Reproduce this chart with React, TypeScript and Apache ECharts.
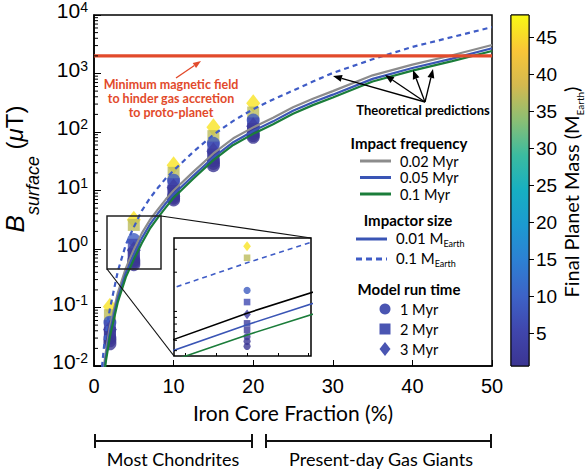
import React, { useEffect, useRef } from "react";
import * as echarts from "echarts";

// ---------------- data ----------------
const ironCoreFraction = [0.9, 1, 1.1, 1.25, 1.5, 2, 3, 4, 5, 6, 7, 8, 9, 10, 12.5, 15, 17.5, 20, 22.5, 25, 27.5, 30, 35, 40, 45, 50];
// Theoretical predictions, B_surface in microtesla
const bFreq002Myr = [0.0035, 0.0048, 0.0065, 0.0099, 0.018, 0.047, 0.18, 0.47, 0.97, 1.85, 3.1, 4.7, 7.0, 10, 21, 43, 78, 120, 175, 265, 370, 500, 930, 1420, 2050, 3070];
const bFreq005Myr = [0.0028, 0.0038, 0.0052, 0.0079, 0.0145, 0.038, 0.148, 0.39, 0.79, 1.52, 2.6, 4.0, 6.0, 8.6, 18, 37, 67, 104, 152, 230, 322, 435, 810, 1240, 1800, 2700];
const bFreq01Myr = [0.0022, 0.0031, 0.0043, 0.0066, 0.0122, 0.032, 0.125, 0.33, 0.66, 1.25, 2.2, 3.4, 5.1, 7.5, 16, 33, 60, 93, 136, 205, 288, 390, 730, 1120, 1630, 2430];
const bImpactor01 = [0.0068, 0.0095, 0.013, 0.021, 0.038, 0.095, 0.42, 1.19, 2.36, 4.5, 7.3, 11, 16, 22, 46, 90, 155, 245, 360, 510, 730, 1020, 1750, 2850, 4200, 6200];
const hinderThreshold = 2000;

// Model runs: [iron core fraction %, B_surface, final planet mass]
const run1Myr = [
  [2, 0.056, 9], [2, 0.030, 1.6], [2, 0.027, 1.2], [2, 0.024, 0.8],
  [5, 1.45, 9], [5, 0.64, 1.6], [5, 0.59, 1.2], [5, 0.54, 0.8],
  [10, 15, 9], [10, 8.0, 1.6], [10, 7.4, 1.2], [10, 6.9, 0.8],
  [15, 64, 9], [15, 32, 1.6], [15, 29, 1.2], [15, 26.5, 0.8],
  [20, 160, 9], [20, 94, 1.6], [20, 87, 1.2], [20, 81, 0.8],
];
const run2Myr = [
  [2, 0.074, 37], [2, 0.048, 6], [2, 0.037, 2.5], [2, 0.033, 2],
  [5, 2.58, 37], [5, 1.18, 6], [5, 0.81, 2.5], [5, 0.72, 2],
  [10, 20, 37], [10, 12.8, 6], [10, 9.8, 2.5], [10, 8.8, 2],
  [15, 85, 37], [15, 54, 6], [15, 41, 2.5], [15, 36, 2],
  [20, 215, 37], [20, 140, 6], [20, 112, 2.5], [20, 102, 2],
];
const run3Myr = [
  [2, 0.103, 46], [2, 0.042, 3.5],
  [5, 3.16, 46], [5, 0.95, 3.5],
  [10, 27, 46], [10, 11.2, 3.5],
  [15, 120, 46], [15, 47, 3.5],
  [20, 310, 46], [20, 125, 3.5],
];

const colorbarTicks = [5, 10, 15, 20, 25, 30, 35, 40, 45];
const massMin = 0.57;
const massMax = 48.07;
const parula = ["#3b3592", "#4046ad", "#3d63c7", "#2d80d3", "#1c9ad1", "#17afc2", "#3bbba0", "#8bbf74", "#d4b94f", "#fac637", "#f8f914"];

const insetX = [4.36, 5.56];
const insetY = [0.455, 3.66];
const insetTicksX = [4.46, 4.73, 5, 5.27, 5.54];
const insetTicksY = [0.5, 0.6, 0.7, 0.8, 0.9, 1, 2, 3];

// ---------------- helpers ----------------
const SANS = "'Liberation Sans', Arial, sans-serif";
const AV = "Lato, 'Open Sans', sans-serif";

const pairs = (ys: number[]) => ironCoreFraction.map((x, i) => [x, ys[i]]);

const mainMinorTicks: number[] = [];
for (let e = -2; e < 4; e++) for (let k = 2; k <= 9; k++) mainMinorTicks.push(k * Math.pow(10, e));

function markerItems(small: boolean, filterX?: number) {
  const f = (p: number[]) => filterX === undefined || p[0] === filterX;
  const s = small ? 0.55 : 1;
  const items = [
    ...run1Myr.filter(f).map((p) => ({ value: p, symbol: "circle", symbolSize: 13 * s })),
    ...run2Myr.filter(f).map((p) => ({ value: p, symbol: "rect", symbolSize: 12 * s })),
    ...run3Myr.filter(f).map((p) => ({ value: p, symbol: "diamond", symbolSize: [14 * s, 18 * s] })),
  ];
  return items.sort((a, b) => b.value[1] - a.value[1]);
}

function tickSeries(xi: number, x0: number, values: number[], len: number) {
  return {
    type: "custom",
    xAxisIndex: xi,
    yAxisIndex: xi,
    silent: true,
    clip: false,
    z: 6,
    data: values.map((v) => [x0, v]),
    renderItem: (_p: any, api: any) => {
      const pt = api.coord([api.value(0), api.value(1)]);
      return {
        type: "line",
        shape: { x1: pt[0], y1: pt[1], x2: pt[0] + len, y2: pt[1] },
        style: { stroke: "#000", lineWidth: 1 },
      };
    },
  };
}

function arrow(x1: number, y1: number, x2: number, y2: number, color: string, lw = 1.3, hl = 9, hw = 7) {
  const dx = x2 - x1, dy = y2 - y1;
  const L = Math.hypot(dx, dy);
  const ux = dx / L, uy = dy / L;
  const bx = x2 - ux * hl, by = y2 - uy * hl;
  return [
    { type: "line", z: 100, shape: { x1, y1, x2: bx, y2: by }, style: { stroke: color, lineWidth: lw } },
    {
      type: "polygon", z: 100,
      shape: { points: [[x2, y2], [bx - (uy * hw) / 2, by + (ux * hw) / 2], [bx + (uy * hw) / 2, by - (ux * hw) / 2]] },
      style: { fill: color },
    },
  ];
}

function txt(x: number, y: number, text: string, font: string, fill = "#000", align = "center", extra: any = {}) {
  return {
    type: "text", z: 100, x, y,
    style: { text, font, fill, textAlign: align, textVerticalAlign: "middle", ...extra },
  };
}

function hline(x1: number, y1: number, x2: number, y2: number, color: string, lw: number, dash?: number[]) {
  return { type: "line", z: 100, shape: { x1, y1, x2, y2 }, style: { stroke: color, lineWidth: lw, lineDash: dash } };
}

const C_GRAY = "#8c8c8c";
const C_BLUE = "#3a55b5";
const C_GREEN = "#1b7d3a";
const C_DASH = "#3f5cc6";
const C_RED = "#e24a2b";
const C_MARK = "#4a55b2";

function buildOption() {
  const curve = (name: string, ys: number[], color: string, width: number, gi: number, dashed = false) => ({
    type: "line",
    name,
    xAxisIndex: gi,
    yAxisIndex: gi,
    data: pairs(ys),
    symbol: "none",
    z: 4,
    lineStyle: { color, width, type: dashed ? [5, 4] : "solid" },
  });

  const legendText = (y: number, t: string) =>
    txt(400, y, t, `14.5px ${AV}`, "#000", "left", { lineHeight: 14, textLineHeight: 14 });
  const mEarth = (x: number, y: number, pre: string) => ({
    type: "text", z: 100, x, y,
    style: {
      text: `{n|${pre} M}{s|Earth}`,
      textAlign: "left", textVerticalAlign: "middle",
      rich: {
        n: { fontSize: 15, fontFamily: AV, fill: "#000", lineHeight: 18, verticalAlign: "top" },
        s: { fontSize: 9, fontFamily: AV, fill: "#000", lineHeight: 9, verticalAlign: "bottom" },
      },
    },
  });

  const graphic: any[] = [
    { type: "rect", z: 100, shape: { x: 107, y: 216, width: 54, height: 53 }, style: { fill: "none", stroke: "#222", lineWidth: 1.5 } },
    hline(161, 216, 311, 238, "#111", 1.2),
    hline(107, 269, 174, 356, "#111", 1.2),
    txt(171, 98, "Minimum magnetic field\nto hinder gas accretion\nto proto-planet", `bold 12.5px ${AV}`, C_RED, "center", { lineHeight: 14 }),
    ...arrow(176, 78, 201, 61, C_RED, 1.4, 8, 6),
    txt(423, 110, "Theoretical predictions", `bold 13px ${AV}`),
    ...arrow(425, 102, 333, 76, "#000"),
    ...arrow(425, 102, 385, 75, "#000"),
    ...arrow(425, 102, 413, 70, "#000"),
    ...arrow(425, 102, 433, 69, "#000"),
    txt(409, 143, "Impact frequency", `bold 15px ${AV}`),
    hline(360, 161, 391, 161, C_GRAY, 3),
    legendText(161, "0.02 Myr"),
    hline(360, 177.5, 391, 177.5, C_BLUE, 3),
    legendText(177.5, "0.05 Myr"),
    hline(360, 194, 391, 194, C_GREEN, 3),
    legendText(194, "0.1 Myr"),
    txt(408, 220, "Impactor size", `bold 15px ${AV}`),
    hline(356, 239, 387, 239, C_BLUE, 3),
    mEarth(396, 239, "0.01"),
    hline(356, 259, 387, 259, C_DASH, 3, [6, 4]),
    mEarth(396, 259, "0.1"),
    txt(409, 289, "Model run time", `bold 15px ${AV}`),
    { type: "circle", z: 100, shape: { cx: 385, cy: 309, r: 5.5 }, style: { fill: C_MARK } },
    legendText(309, "1 Myr"),
    { type: "rect", z: 100, shape: { x: 379.5, y: 323.5, width: 11, height: 11 }, style: { fill: C_MARK } },
    legendText(329, "2 Myr"),
    { type: "polygon", z: 100, shape: { points: [[385, 342], [390.5, 349], [385, 356], [379.5, 349]] }, style: { fill: C_MARK } },
    legendText(349, "3 Myr"),
    hline(95, 441, 252, 441, "#111", 2),
    hline(95, 434, 95, 448, "#111", 2),
    hline(252, 434, 252, 448, "#111", 2),
    hline(266, 441, 491, 441, "#111", 2),
    hline(266, 434, 266, 448, "#111", 2),
    hline(491, 434, 491, 448, "#111", 2),
    txt(173, 459, "Most Chondrites", `18px ${AV}`),
    txt(381, 459, "Present-day Gas Giants", `18px ${AV}`),
    {
      type: "text", z: 100, x: 22, y: 169, rotation: Math.PI / 2,
      style: {
        text: "{b|B}{s|surface}{n| (}{m|μ}{n|T)}",
        textAlign: "center", textVerticalAlign: "middle",
        rich: {
          b: { fontSize: 26, fontStyle: "italic", fontFamily: SANS, fill: "#000", lineHeight: 40, verticalAlign: "top" },
          s: { fontSize: 18, fontStyle: "italic", fontFamily: SANS, fill: "#000", lineHeight: 18, verticalAlign: "bottom" },
          n: { fontSize: 24, fontFamily: SANS, fill: "#000", lineHeight: 40, verticalAlign: "top" },
          m: { fontSize: 24, fontStyle: "italic", fontFamily: SANS, fill: "#000", lineHeight: 40, verticalAlign: "top" },
        },
      },
    },
    {
      type: "text", z: 100, x: 573, y: 192, rotation: Math.PI / 2,
      style: {
        text: "{n|Final Planet Mass (M}{s|Earth}{n|)}",
        textAlign: "center", textVerticalAlign: "middle",
        rich: {
          n: { fontSize: 20, fontFamily: AV, fill: "#000", lineHeight: 24, verticalAlign: "top" },
          s: { fontSize: 10, fontFamily: AV, fill: "#000", lineHeight: 10, verticalAlign: "bottom" },
        },
      },
    },
  ];

  return {
    animation: false,
    backgroundColor: "#fff",
    grid: [
      { left: 94, top: 15, width: 398, height: 351, show: true, borderColor: "#000", borderWidth: 1.5, backgroundColor: "transparent" },
      { left: 174, top: 238, width: 137, height: 118, show: true, borderColor: "#000", borderWidth: 1.5, backgroundColor: "#fff" },
      { left: 511, top: 15, width: 18, height: 351, show: true, borderColor: "#000", borderWidth: 1 },
    ],
    xAxis: [
      {
        type: "value", gridIndex: 0, min: 0, max: 50, interval: 10,
        name: "Iron Core Fraction (%)", nameLocation: "middle", nameGap: 36,
        nameTextStyle: { fontSize: 21, fontFamily: AV, color: "#000" },
        axisLine: { show: true, lineStyle: { color: "#000", width: 1.5 } },
        axisTick: { show: true, inside: true, length: 6, lineStyle: { color: "#000" } },
        axisLabel: { fontSize: 20, fontFamily: SANS, color: "#000", margin: 10 },
        splitLine: { show: false },
      },
      {
        type: "value", gridIndex: 1, min: insetX[0], max: insetX[1],
        axisLine: { show: false },
        axisTick: { show: true, inside: true, length: 3, customValues: insetTicksX, lineStyle: { color: "#000" } },
        axisLabel: { show: false },
        splitLine: { show: false },
      },
      { type: "category", gridIndex: 2, data: ["mass"], show: false },
    ],
    yAxis: [
      {
        type: "log", gridIndex: 0, min: 0.01, max: 10000, logBase: 10,
        axisLine: { show: true, lineStyle: { color: "#000", width: 1.5 } },
        axisTick: { show: true, inside: true, length: 7, lineStyle: { color: "#000" } },
        splitLine: { show: false },
        axisLabel: {
          showMinLabel: true, showMaxLabel: true, margin: 6,
          formatter: (v: number) => `{b|10}{s|${Math.round(Math.log10(v))}}`,
          rich: {
            b: { fontSize: 21, fontFamily: SANS, color: "#000", lineHeight: 30, verticalAlign: "top" },
            s: { fontSize: 14, fontFamily: SANS, color: "#000", lineHeight: 14, verticalAlign: "top" },
          },
        },
      },
      {
        type: "log", gridIndex: 1, min: insetY[0], max: insetY[1], logBase: 10,
        axisLine: { show: false }, axisTick: { show: false }, axisLabel: { show: false }, splitLine: { show: false },
      },
      {
        type: "value", gridIndex: 2, min: massMin, max: massMax, position: "right",
        axisLine: { show: false }, splitLine: { show: false },
        axisTick: { show: true, length: 5, customValues: colorbarTicks, lineStyle: { color: "#000" } },
        axisLabel: { customValues: colorbarTicks, fontSize: 19, fontFamily: SANS, color: "#000", margin: 7 },
      },
    ],
    visualMap: {
      type: "continuous", show: false, min: massMin, max: massMax, dimension: 2,
      seriesIndex: [0, 7], inRange: { color: parula },
    },
    graphic,
    series: [
      { type: "scatter", name: "runs", xAxisIndex: 0, yAxisIndex: 0, z: 2, data: markerItems(false) },
      curve("0.02 Myr", bFreq002Myr, C_GRAY, 2.2, 0),
      curve("0.05 Myr", bFreq005Myr, C_BLUE, 2.2, 0),
      curve("0.1 Myr", bFreq01Myr, C_GREEN, 2.2, 0),
      curve("0.1 MEarth", bImpactor01, C_DASH, 2.2, 0, true),
      {
        type: "line", name: "threshold", xAxisIndex: 0, yAxisIndex: 0, z: 5, symbol: "none",
        data: [[0, hinderThreshold], [50, hinderThreshold]],
        lineStyle: { color: C_RED, width: 3.2 },
      },
      tickSeries(0, 0, mainMinorTicks, 4),
      { type: "scatter", name: "inset runs", xAxisIndex: 1, yAxisIndex: 1, z: 2, data: markerItems(true, 5) },
      curve("inset 0.02 Myr", bFreq002Myr, "#000", 1.6, 1),
      curve("inset 0.05 Myr", bFreq005Myr, C_BLUE, 1.6, 1),
      curve("inset 0.1 Myr", bFreq01Myr, C_GREEN, 1.6, 1),
      curve("inset 0.1 MEarth", bImpactor01, C_DASH, 1.6, 1, true),
      tickSeries(1, insetX[0], insetTicksY, 3),
      {
        type: "custom", name: "colorbar", xAxisIndex: 2, yAxisIndex: 2, silent: true, z: 3,
        data: [["mass", massMax]],
        renderItem: (params: any) => {
          const cs = params.coordSys;
          return {
            type: "rect",
            shape: { x: cs.x, y: cs.y, width: cs.width, height: cs.height },
            style: {
              fill: new echarts.graphic.LinearGradient(0, 1, 0, 0, parula.map((c, i) => ({ offset: i / (parula.length - 1), color: c }))),
              stroke: "#000", lineWidth: 1,
            },
          };
        },
      },
    ],
  };
}

export default function App() {
  const ref = useRef<HTMLDivElement>(null);
  useEffect(() => {
    const chart = echarts.init(ref.current!, null, { renderer: "svg" });
    chart.setOption(buildOption() as any);
    return () => chart.dispose();
  }, []);
  return <div ref={ref} style={{ position: "fixed", left: 0, top: 0, width: 587, height: 469, background: "#fff" }} />;
}
